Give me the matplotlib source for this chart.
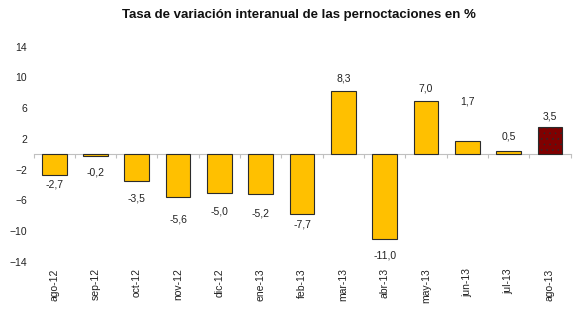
import numpy as np
import matplotlib
matplotlib.use("Agg")
import matplotlib.pyplot as plt

# Data
months = ["ago-12", "sep-12", "oct-12", "nov-12", "dic-12", "ene-13", "feb-13",
          "mar-13", "abr-13", "may-13", "jun-13", "jul-13", "ago-13"]
values = [-2.7, -0.2, -3.5, -5.6, -5.0, -5.2, -7.7, 8.3, -11.0, 7.0, 1.7, 0.5, 3.5]

# label distance from bar end, in pixels (as placed in the original)
label_gap_px = [9, 17, 17, 22, 19, 19, 11, 12, 17, 12, 40, 14, 11]

plt.rcParams['font.family'] = ['Liberation Sans', 'DejaVu Sans']
plt.rcParams['hatch.linewidth'] = 0.4

fig = plt.figure(figsize=(5.85, 3.21), dpi=100)
ax = fig.add_axes([0.0573, 0.1838, 0.918, 0.6707])

x = np.arange(len(months))
colors = ['#FFC000'] * (len(months) - 1) + ['#800000']
bars = ax.bar(x, values, width=0.6, color=colors, edgecolor='#2b2b2b',
              linewidth=0.8, zorder=3)
bars[-1].set_hatch('...')

# value labels, decimal comma
for xi, v, gap in zip(x, values, label_gap_px):
    txt = f"{v:.1f}".replace('.', ',')
    sign = 1 if v >= 0 else -1
    ax.annotate(txt, (xi, v), xytext=(0, sign * gap * 0.72),
                textcoords='offset points', ha='center', va='center',
                fontsize=7.5, color='#222222')

ax.set_xlim(-0.5, len(months) - 0.5)
ax.set_ylim(-14, 14)
ax.set_yticks(np.arange(-14, 15, 4))
ax.set_xticks(x)
ax.set_xticklabels(months, rotation=90, va='top', ha='center')
ax.tick_params(axis='x', length=0, pad=4.5, labelsize=7.5, colors='#222222')
ax.tick_params(axis='y', length=0, pad=4.5, labelsize=7.5, colors='#222222')

for s in ax.spines.values():
    s.set_visible(False)

# category axis drawn at zero, with ticks between categories
sec = ax.secondary_xaxis(0, transform=ax.transData)
sec.set_xticks(np.arange(-0.5, len(months), 1))
sec.tick_params(axis='x', length=3, color='#c0c0c0', width=0.8,
                labelbottom=False, direction='out')
sec.spines['bottom'].set_color('#c0c0c0')
sec.spines['bottom'].set_linewidth(0.8)

fig.text(0.511, 0.953, "Tasa de variación interanual de las pernoctaciones en %",
         ha='center', va='center', fontsize=9.5, fontweight='bold', color='#111111')

fig.savefig("out.png", dpi=100)
